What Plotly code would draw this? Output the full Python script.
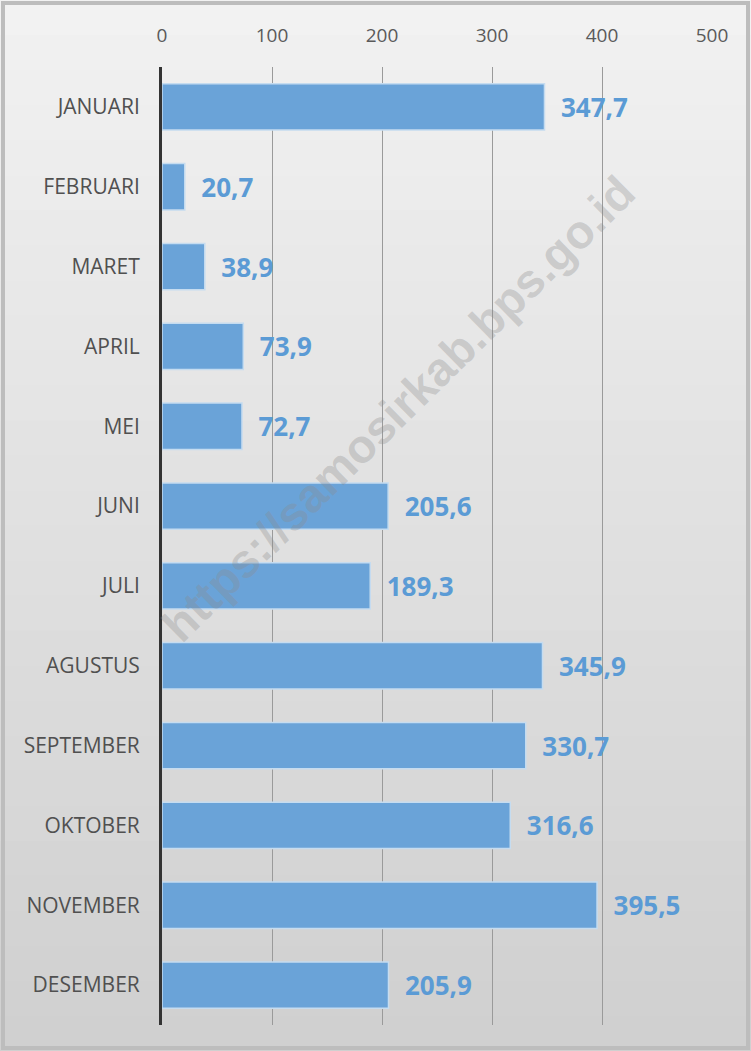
import plotly.graph_objects as go

months = ["JANUARI", "FEBRUARI", "MARET", "APRIL", "MEI", "JUNI", "JULI",
          "AGUSTUS", "SEPTEMBER", "OKTOBER", "NOVEMBER", "DESEMBER"]
values = [347.7, 20.7, 38.9, 73.9, 72.7, 205.6, 189.3, 345.9, 330.7, 316.6, 395.5, 205.9]
tick_vals = [0, 100, 200, 300, 400, 500]
labels = ["\u00a0\u00a0" + f"{v:.1f}".replace(".", ",") for v in values]

W, H = 751, 1051
ml, mr, mt, mb = 162, 39, 67, 26
pw, ph = W - ml - mr, H - mt - mb

fig = go.Figure(go.Bar(
    y=months, x=values, orientation="h",
    marker=dict(color="#6aa3d8", line=dict(color="#c5dcf0", width=1.5)),
    width=0.58,
    text=labels, textposition="outside", cliponaxis=False,
    textfont=dict(family="Open Sans, Liberation Sans", size=26, color="#5b9bd5", weight="bold"),
))

# background gradient (paper coordinates relative to plot area)
shapes = []
n = 30
x0p, x1p = -ml / pw, 1 + mr / pw
for i in range(n):
    y_top = 1 + mt / ph - i * (H / n) / ph
    y_bot = y_top - (H / n) / ph - 0.002
    g = int(242 - (242 - 208) * i / (n - 1))
    shapes.append(dict(type="rect", xref="paper", yref="paper", x0=x0p, x1=x1p,
                       y0=y_bot, y1=y_top, fillcolor=f"rgb({g},{g},{g})",
                       line=dict(width=0), layer="below"))
# frame
shapes.append(dict(type="rect", xref="paper", yref="paper",
                   x0=(-ml + 3) / pw, x1=1 + (mr - 3) / pw,
                   y0=-(mb - 3) / ph, y1=1 + (mt - 3) / ph,
                   line=dict(color="#bdbdbd", width=4), fillcolor="rgba(0,0,0,0)", layer="above"))

fig.update_layout(
    width=W, height=H,
    margin=dict(l=ml, r=mr, t=mt, b=mb),
    paper_bgcolor="#e8e8e8", plot_bgcolor="rgba(0,0,0,0)",
    showlegend=False, shapes=shapes,
    font=dict(family="Open Sans, Liberation Sans", color="#555555"),
    annotations=[dict(
        text="https://samosirkab.bps.go.id", xref="paper", yref="paper",
        x=(398 - ml) / pw, y=1 - (408 - mt) / ph, showarrow=False, textangle=-44.5,
        font=dict(family="Liberation Sans, Arial", size=47, color="rgba(140,140,140,0.33)", weight="bold"),
    )],
)
fig.update_xaxes(
    side="top", range=[0, 500], tickvals=tick_vals,
    showgrid=True, gridcolor="#9a9a9a", gridwidth=1.2,
    zeroline=False, showline=False,
    tickfont=dict(size=19, color="#5a5a5a"), ticks="", ticklabelstandoff=20,
)
fig.update_yaxes(
    autorange="reversed", showline=True, linecolor="#333333", linewidth=3,
    tickfont=dict(size=21, color="#505050"), ticks="", ticklabelstandoff=15,
    showgrid=False,
)

fig.write_html("out.html", config={"displayModeBar": False},
               post_script="document.body.style.margin='0';")
